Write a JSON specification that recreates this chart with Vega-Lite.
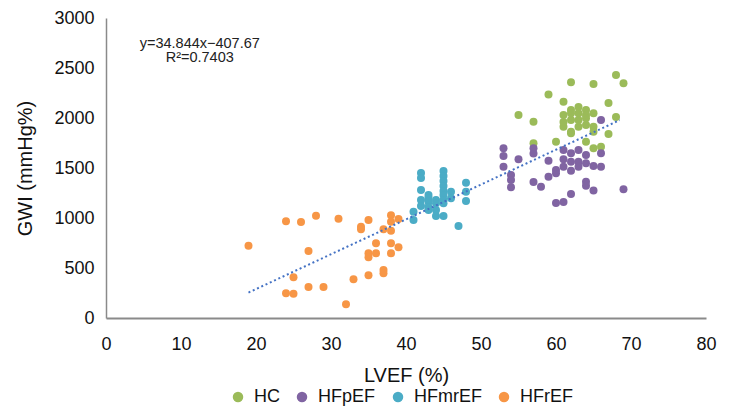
{
  "$schema": "https://vega.github.io/schema/vega-lite/v6.json",
  "width": 600,
  "height": 300,
  "autosize": {"type": "none"},
  "padding": {"left": 106, "top": 18, "right": 24, "bottom": 95},
  "background": "white",
  "config": {"view": {"stroke": null}, "font": "Liberation Sans"},
  "datasets": {
    "pts": [
      {"g":"HC","lvef":55,"gwi":2030},{"g":"HC","lvef":57,"gwi":1963},{"g":"HC","lvef":57,"gwi":1747},{"g":"HC","lvef":59,"gwi":2235},
      {"g":"HC","lvef":60,"gwi":1763},{"g":"HC","lvef":61,"gwi":2163},{"g":"HC","lvef":62,"gwi":2357},{"g":"HC","lvef":65,"gwi":2340},
      {"g":"HC","lvef":68,"gwi":2430},{"g":"HC","lvef":69,"gwi":2347},{"g":"HC","lvef":67,"gwi":2150},{"g":"HC","lvef":68,"gwi":2010},
      {"g":"HC","lvef":67,"gwi":1840},{"g":"HC","lvef":64,"gwi":1763},{"g":"HC","lvef":65,"gwi":1697},{"g":"HC","lvef":66,"gwi":1713},
      {"g":"HC","lvef":61,"gwi":2030},{"g":"HC","lvef":62,"gwi":2080},{"g":"HC","lvef":63,"gwi":2110},{"g":"HC","lvef":64,"gwi":2080},
      {"g":"HC","lvef":65,"gwi":2047},{"g":"HC","lvef":62,"gwi":2047},{"g":"HC","lvef":63,"gwi":2047},{"g":"HC","lvef":64,"gwi":2030},
      {"g":"HC","lvef":62,"gwi":1980},{"g":"HC","lvef":63,"gwi":1980},{"g":"HC","lvef":64,"gwi":1997},{"g":"HC","lvef":61,"gwi":1913},
      {"g":"HC","lvef":62,"gwi":1863},{"g":"HC","lvef":63,"gwi":1913},{"g":"HC","lvef":65,"gwi":1913},{"g":"HC","lvef":65,"gwi":1863},
      {"g":"HC","lvef":62,"gwi":1847},{"g":"HC","lvef":64,"gwi":1930},{"g":"HC","lvef":61,"gwi":1960},
      {"g":"HFpEF","lvef":53,"gwi":1697},{"g":"HFpEF","lvef":53,"gwi":1620},{"g":"HFpEF","lvef":53,"gwi":1513},{"g":"HFpEF","lvef":54,"gwi":1430},
      {"g":"HFpEF","lvef":54,"gwi":1380},{"g":"HFpEF","lvef":54,"gwi":1307},{"g":"HFpEF","lvef":55,"gwi":1587},{"g":"HFpEF","lvef":57,"gwi":1697},
      {"g":"HFpEF","lvef":57,"gwi":1645},{"g":"HFpEF","lvef":57,"gwi":1360},{"g":"HFpEF","lvef":58,"gwi":1313},{"g":"HFpEF","lvef":59,"gwi":1573},
      {"g":"HFpEF","lvef":59,"gwi":1413},{"g":"HFpEF","lvef":60,"gwi":1480},{"g":"HFpEF","lvef":60,"gwi":1447},{"g":"HFpEF","lvef":60,"gwi":1150},
      {"g":"HFpEF","lvef":61,"gwi":1160},{"g":"HFpEF","lvef":61,"gwi":1680},{"g":"HFpEF","lvef":61,"gwi":1587},{"g":"HFpEF","lvef":61,"gwi":1513},
      {"g":"HFpEF","lvef":62,"gwi":1647},{"g":"HFpEF","lvef":62,"gwi":1563},{"g":"HFpEF","lvef":62,"gwi":1473},{"g":"HFpEF","lvef":62,"gwi":1240},
      {"g":"HFpEF","lvef":63,"gwi":1680},{"g":"HFpEF","lvef":63,"gwi":1563},{"g":"HFpEF","lvef":63,"gwi":1513},{"g":"HFpEF","lvef":64,"gwi":1630},
      {"g":"HFpEF","lvef":64,"gwi":1547},{"g":"HFpEF","lvef":64,"gwi":1363},{"g":"HFpEF","lvef":64,"gwi":1323},{"g":"HFpEF","lvef":65,"gwi":1520},
      {"g":"HFpEF","lvef":65,"gwi":1275},{"g":"HFpEF","lvef":66,"gwi":1513},{"g":"HFpEF","lvef":66,"gwi":1647},{"g":"HFpEF","lvef":66,"gwi":1980},
      {"g":"HFpEF","lvef":69,"gwi":1287},
      {"g":"HFmrEF","lvef":41,"gwi":1063},{"g":"HFmrEF","lvef":41,"gwi":980},{"g":"HFmrEF","lvef":42,"gwi":1450},{"g":"HFmrEF","lvef":42,"gwi":1400},
      {"g":"HFmrEF","lvef":42,"gwi":1280},{"g":"HFmrEF","lvef":42,"gwi":1180},{"g":"HFmrEF","lvef":42,"gwi":1120},{"g":"HFmrEF","lvef":43,"gwi":1230},
      {"g":"HFmrEF","lvef":43,"gwi":1200},{"g":"HFmrEF","lvef":43,"gwi":1163},{"g":"HFmrEF","lvef":43,"gwi":1110},{"g":"HFmrEF","lvef":43,"gwi":1080},
      {"g":"HFmrEF","lvef":44,"gwi":1180},{"g":"HFmrEF","lvef":44,"gwi":1147},{"g":"HFmrEF","lvef":44,"gwi":1080},{"g":"HFmrEF","lvef":44,"gwi":1020},
      {"g":"HFmrEF","lvef":45,"gwi":1470},{"g":"HFmrEF","lvef":45,"gwi":1420},{"g":"HFmrEF","lvef":45,"gwi":1370},{"g":"HFmrEF","lvef":45,"gwi":1320},
      {"g":"HFmrEF","lvef":45,"gwi":1270},{"g":"HFmrEF","lvef":45,"gwi":1230},{"g":"HFmrEF","lvef":45,"gwi":1180},{"g":"HFmrEF","lvef":45,"gwi":1147},
      {"g":"HFmrEF","lvef":45,"gwi":1020},{"g":"HFmrEF","lvef":46,"gwi":1263},{"g":"HFmrEF","lvef":46,"gwi":1197},{"g":"HFmrEF","lvef":47,"gwi":920},
      {"g":"HFmrEF","lvef":48,"gwi":1353},{"g":"HFmrEF","lvef":48,"gwi":1263},{"g":"HFmrEF","lvef":48,"gwi":1170},
      {"g":"HFrEF","lvef":19,"gwi":723},{"g":"HFrEF","lvef":24,"gwi":967},{"g":"HFrEF","lvef":26,"gwi":960},{"g":"HFrEF","lvef":28,"gwi":1023},
      {"g":"HFrEF","lvef":31,"gwi":993},{"g":"HFrEF","lvef":27,"gwi":670},{"g":"HFrEF","lvef":25,"gwi":407},{"g":"HFrEF","lvef":24,"gwi":247},
      {"g":"HFrEF","lvef":25,"gwi":243},{"g":"HFrEF","lvef":27,"gwi":310},{"g":"HFrEF","lvef":29,"gwi":310},{"g":"HFrEF","lvef":32,"gwi":137},
      {"g":"HFrEF","lvef":33,"gwi":387},{"g":"HFrEF","lvef":35,"gwi":427},{"g":"HFrEF","lvef":37,"gwi":480},{"g":"HFrEF","lvef":37,"gwi":447},
      {"g":"HFrEF","lvef":35,"gwi":980},{"g":"HFrEF","lvef":34,"gwi":913},{"g":"HFrEF","lvef":34,"gwi":887},{"g":"HFrEF","lvef":36,"gwi":747},
      {"g":"HFrEF","lvef":35,"gwi":647},{"g":"HFrEF","lvef":35,"gwi":607},{"g":"HFrEF","lvef":36,"gwi":647},{"g":"HFrEF","lvef":38,"gwi":747},
      {"g":"HFrEF","lvef":39,"gwi":707},{"g":"HFrEF","lvef":38,"gwi":647},{"g":"HFrEF","lvef":38,"gwi":1027},{"g":"HFrEF","lvef":38,"gwi":963},
      {"g":"HFrEF","lvef":39,"gwi":990},{"g":"HFrEF","lvef":37,"gwi":887},{"g":"HFrEF","lvef":38,"gwi":873}
    ],
    "trend": [{"lvef":19,"gwi":254.4},{"lvef":68.5,"gwi":1979.1}],
    "notes": [
      {"lvef":12.5,"gwi":2745,"label":"y=34.844x−407.67"},
      {"lvef":12.5,"gwi":2600,"label":"R²=0.7403"}
    ]
  },
  "layer": [
    {
      "data": {"name": "pts"},
      "mark": {"type": "circle", "size": 64, "opacity": 1},
      "encoding": {
        "x": {"field": "lvef", "type": "quantitative", "scale": {"domain": [0, 80], "nice": false},
          "axis": {"values": [0,10,20,30,40,50,60,70,80], "grid": false, "ticks": false, "domainColor": "#8a8a8a", "domainWidth": 2,
            "labelFontSize": 18, "labelColor": "#111", "labelPadding": 17, "labelFlush": false, "labelOverlap": false,
            "title": "LVEF (%)", "titleFontSize": 20, "titleFontWeight": "normal", "titleColor": "#111", "titlePadding": 12}},
        "y": {"field": "gwi", "type": "quantitative", "scale": {"domain": [0, 3000], "nice": false},
          "axis": {"values": [0,500,1000,1500,2000,2500,3000], "format": "d", "grid": false, "ticks": false, "domainColor": "#8a8a8a", "domainWidth": 1.5,
            "labelFontSize": 18, "labelColor": "#111", "labelPadding": 12, "labelFlush": false, "labelOverlap": false,
            "title": "GWI (mmHg%)", "titleFontSize": 20, "titleFontWeight": "normal", "titleColor": "#111", "titlePadding": 18}},
        "color": {"field": "g", "type": "nominal",
          "scale": {"domain": ["HC","HFpEF","HFmrEF","HFrEF"], "range": ["#9BBB59","#8064A2","#4BACC6","#F79646"]},
          "legend": {"orient": "none", "legendX": 123, "legendY": 370, "direction": "horizontal", "title": null,
            "symbolType": "circle", "symbolSize": 110, "labelFontSize": 18, "labelColor": "#111", "labelOffset": 7,
            "columnPadding": 13, "padding": 0, "symbolStrokeWidth": 0}}
      }
    },
    {
      "data": {"name": "trend"},
      "mark": {"type": "line", "color": "#4472C4", "strokeWidth": 2, "strokeDash": [2, 2.7]},
      "encoding": {
        "x": {"field": "lvef", "type": "quantitative"},
        "y": {"field": "gwi", "type": "quantitative"}
      }
    },
    {
      "data": {"name": "notes"},
      "mark": {"type": "text", "fontSize": 14.5, "align": "center", "baseline": "middle", "color": "#222"},
      "encoding": {
        "x": {"field": "lvef", "type": "quantitative"},
        "y": {"field": "gwi", "type": "quantitative"},
        "text": {"field": "label"}
      }
    }
  ]
}
